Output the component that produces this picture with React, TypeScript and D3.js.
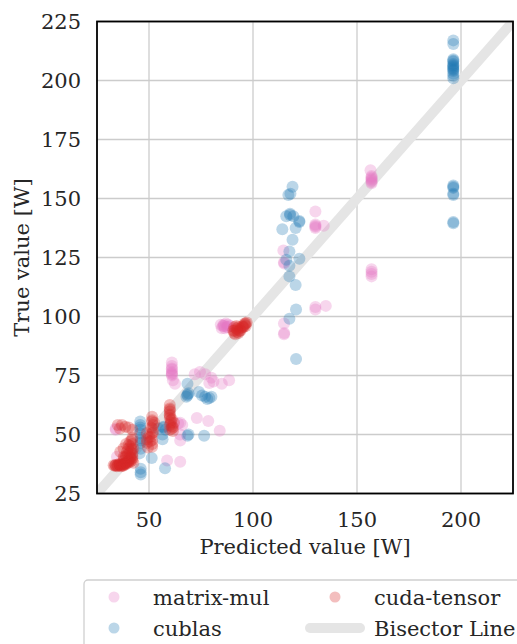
import React from "react";
import * as d3 from "d3";

// Predicted vs. true power draw, per benchmark
const matrixMulPredicted = [156.5, 157, 157, 157, 157, 157, 157, 157, 157, 157, 157, 157, 130, 130, 130, 130, 130, 134, 130, 130, 135, 114.6, 114.9, 115, 114.9, 114.9, 115, 84.5, 85, 86, 87, 88, 89, 86.5, 85.5, 87.5, 86, 88, 61, 61, 61, 61, 61, 61, 61, 61, 62.5, 61.5, 72, 74.5, 77, 80, 81, 85, 88.5, 79, 73, 78.5, 84, 65, 65, 66, 65, 34, 34, 34.6, 58.7, 65, 64];
const matrixMulTrue = [162, 159.5, 158.5, 157.5, 156.5, 157, 158, 159, 120, 119, 118, 117, 144.5, 139, 138, 137.5, 138.5, 138.5, 104, 103, 104.5, 128, 123, 122.5, 97, 92.5, 93, 96.5, 95, 96, 97, 96.5, 96, 95, 96, 95.5, 96.5, 95.5, 80.5, 79, 77.5, 76, 75, 76.5, 78, 75.5, 71.5, 73, 75.5, 76.5, 75.5, 74, 72.5, 71.5, 73, 71.8, 57, 55.7, 51.6, 55, 47.5, 54, 50, 52, 52.5, 40.6, 39, 38.5, 54.7];

const cublasPredicted = [196.3, 196.3, 196.3, 196.3, 196.3, 196.3, 196.3, 196.3, 196.3, 196.3, 196.3, 196.3, 196.3, 196.3, 196.3, 196.3, 196.3, 196.3, 196.3, 196.3, 196.3, 196.3, 119, 118, 117, 116, 117.8, 117.8, 119.4, 122.3, 122.3, 114.1, 120.5, 119, 117.5, 116, 122.3, 117.5, 117.5, 120.5, 120.7, 117.5, 120.7, 68.5, 68.5, 68.5, 69, 68, 74, 75.5, 77, 79, 80, 78, 69, 68.5, 76.5, 45.8, 45.8, 45.8, 45.8, 46, 46, 46, 45.5, 46, 46, 46, 45.8, 46, 51.3, 57.7, 56.5, 56.5, 54.5, 58, 57, 56.9];
const cublasTrue = [217, 215.5, 209, 208.5, 208, 207, 206.5, 206, 205.5, 205, 204.5, 204, 203, 202, 201, 155.5, 155, 154.5, 152, 151.5, 140, 139.5, 155, 152, 151.5, 142.5, 143.5, 143, 142.5, 140, 140.5, 137, 137.5, 132.5, 127.5, 124, 124.5, 121.5, 117, 113.3, 103, 99, 82, 71.5, 67, 66.5, 67.5, 66, 68, 66.5, 66, 65.5, 66, 65, 50, 49.5, 49.5, 55.5, 54, 52, 50.5, 48.5, 46.5, 44, 42, 35.5, 34, 33, 53, 47.5, 40, 35.7, 50, 48, 52.5, 52, 53, 53.3];

const cudaTensorPredicted = [90.5, 91, 91, 92, 92.5, 93, 94, 95, 96, 96.5, 97, 93, 91.5, 94, 95.5, 96, 91, 92, 93.5, 95, 96.5, 92.5, 60, 60, 60, 60, 60, 60.5, 60, 61.5, 60, 61.5, 62, 61, 60, 61, 60, 60.5, 61, 51.5, 51.5, 52, 51.5, 51.5, 51, 51.5, 51.5, 51.5, 49, 49, 49, 49.5, 52.5, 52, 51, 50, 51.5, 50.5, 41.8, 42, 42, 41, 42.5, 35, 37, 38.6, 40.2, 36, 42, 37.8, 39.4, 41.8, 40.2, 37.8, 36.2, 41, 39, 38, 40, 42, 40, 39, 41, 33, 34, 35, 35.5, 36, 37, 38, 38.5, 39, 40, 41, 42, 42.5, 34.5, 36.5, 37.5, 39.5, 41.5, 33.5, 35, 36, 37, 38, 39, 40.5, 41, 42, 38, 40, 41.5, 34, 36, 38, 40, 42, 39, 41];
const cudaTensorTrue = [94, 93, 95.5, 96, 94.5, 93, 95, 96, 97, 96, 97.5, 95.5, 92.5, 94, 95.5, 96.5, 94, 95, 94, 95.5, 97, 93.5, 62.5, 61, 59.7, 58, 57, 55, 54, 53, 52, 51.5, 55, 56.5, 60.5, 53.5, 58.5, 56, 52.5, 57.5, 56, 54, 52.5, 50.5, 49, 47.7, 46, 44.8, 50.5, 48, 46.5, 44.5, 55, 51, 53, 49, 55.5, 47, 47.7, 48.5, 46, 45, 44, 54, 54, 53.3, 53, 52.5, 52, 40.6, 42.7, 43.4, 45.5, 44.2, 42.7, 40.6, 41, 39, 39.5, 42, 44, 46, 47, 37, 37, 36.8, 37.5, 37, 37.2, 37, 37.8, 37.5, 38, 38.5, 39, 38, 36.5, 36.5, 36.8, 38.5, 39.5, 36.8, 37, 37.3, 36.8, 37.5, 38, 39, 40, 41, 40, 41.5, 44, 37, 37.2, 37.5, 38.5, 40, 40.5, 42.5];

const xTicks = [50, 100, 150, 200];
const yTicks = [25, 50, 75, 100, 125, 150, 175, 200, 225];
const axisRange = [25, 225];

const series = [
  { name: "matrix-mul", color: "#e377c2", xs: matrixMulPredicted, ys: matrixMulTrue },
  { name: "cublas", color: "#1f77b4", xs: cublasPredicted, ys: cublasTrue },
  { name: "cuda-tensor", color: "#d62728", xs: cudaTensorPredicted, ys: cudaTensorTrue },
];

const W = 517;
const H = 644;
const margin = { left: 97, right: 4, top: 21.5, bottom: 150.5 };
const FONT = "'DejaVu Serif', serif";
const FS = 21;
const INK = "#262626";

export default function App() {
  const x = d3.scaleLinear().domain(axisRange).range([margin.left, W - margin.right]);
  const y = d3.scaleLinear().domain(axisRange).range([H - margin.bottom, margin.top]);
  const [x0, x1] = x.range();
  const [y0, y1] = y.range();
  const bisector = d3.line<number>().x((v) => x(v)).y((v) => y(v))(axisRange) as string;

  return (
    <svg width={W} height={H} style={{ position: "absolute", left: 0, top: 0, background: "#fff" }} fontFamily={FONT}>
      <defs>
        <clipPath id="plot-clip">
          <rect x={x0} y={y1} width={x1 - x0} height={y0 - y1} />
        </clipPath>
      </defs>
      {/* grid */}
      {xTicks.map((t) => (
        <line key={"gx" + t} x1={x(t)} x2={x(t)} y1={y1} y2={y0} stroke="#cccccc" strokeWidth={1.3} />
      ))}
      {yTicks.map((t) => (
        <line key={"gy" + t} x1={x0} x2={x1} y1={y(t)} y2={y(t)} stroke="#cccccc" strokeWidth={1.3} />
      ))}
      <g clipPath="url(#plot-clip)">
        <path d={bisector} stroke="#e5e5e5" strokeWidth={10} fill="none" />
        {series.map((s) =>
          s.xs.map((v, i) => (
            <circle key={s.name + i} cx={x(v)} cy={y(s.ys[i])} r={6} fill={s.color} fillOpacity={0.3} />
          ))
        )}
      </g>
      <rect x={x0} y={y1} width={x1 - x0} height={y0 - y1} fill="none" stroke="#000" strokeWidth={1.8} />
      {/* tick labels */}
      {xTicks.map((t) => (
        <text key={"tx" + t} x={x(t)} y={y0 + 33.5} textAnchor="middle" fontSize={FS} fill={INK}>
          {t}
        </text>
      ))}
      {yTicks.map((t) => (
        <text key={"ty" + t} x={x0 - 16} y={y(t) + 7.6} textAnchor="end" fontSize={FS} fill={INK}>
          {t}
        </text>
      ))}
      <text x={(x0 + x1) / 2} y={y0 + 60} textAnchor="middle" fontSize={FS} fill={INK}>
        Predicted value [W]
      </text>
      <text transform={`translate(29,${(y0 + y1) / 2}) rotate(-90)`} textAnchor="middle" fontSize={FS} fill={INK}>
        True value [W]
      </text>
      {/* legend */}
      <rect x={84} y={580} width={460} height={80} rx={4} fill="#fff" stroke="#d0d0d0" strokeWidth={1.3} />
      {[
        { label: "matrix-mul", color: "#e377c2", cx: 114, cy: 597 },
        { label: "cublas", color: "#1f77b4", cx: 114, cy: 628 },
        { label: "cuda-tensor", color: "#d62728", cx: 335, cy: 597 },
      ].map((e) => (
        <g key={e.label}>
          <circle cx={e.cx} cy={e.cy} r={5.5} fill={e.color} fillOpacity={0.3} />
          <text x={e.cx + 39} y={e.cy + 7.5} fontSize={FS} fill={INK}>
            {e.label}
          </text>
        </g>
      ))}
      <line x1={310} x2={360} y1={628} y2={628} stroke="#e5e5e5" strokeWidth={10} strokeLinecap="round" />
      <text x={374} y={635.5} fontSize={FS} fill={INK}>
        Bisector Line
      </text>
    </svg>
  );
}
